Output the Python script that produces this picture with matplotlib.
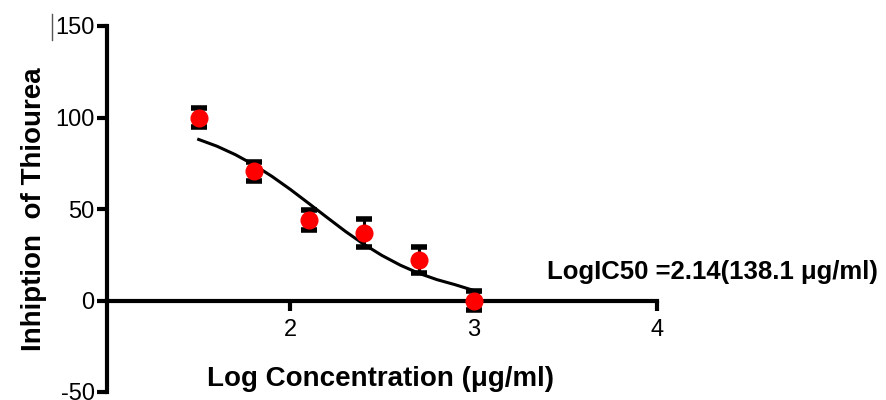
import matplotlib
matplotlib.use('Agg')
import matplotlib.pyplot as plt
from matplotlib.lines import Line2D

plt.rcParams['font.family'] = ['Liberation Sans', 'DejaVu Sans']
plt.rcParams['axes.unicode_minus'] = False

# Data
log_conc = [1.5, 1.8, 2.1, 2.4, 2.7, 3.0]
inhibition = [100, 70.5, 44, 36.7, 22.4, 0]
sem = [5.3, 5.2, 5.5, 7.7, 7.1, 5.2]

# fitted curve
curve_x = [1.5, 1.6, 1.7, 1.8, 1.9, 2.0, 2.1, 2.2, 2.3, 2.4, 2.5, 2.6, 2.7, 2.8, 2.9, 3.0, 3.03]
curve_y = [88.0, 84.3, 79.7, 74.2, 67.8, 60.7, 53.1, 45.4, 37.8, 30.8, 24.6, 19.3, 14.9, 11.4, 8.6, 5.5, 4.5]

x_ticks = [2, 3, 4]
y_ticks = [-50, 0, 50, 100, 150]

fig = plt.figure(figsize=(8.86, 4.0), dpi=100)
ax = fig.add_axes([0.1208, 0.02, 0.6207, 0.915])

ax.plot(curve_x, curve_y, color='black', lw=2.2, zorder=2)
ax.errorbar(log_conc, inhibition, yerr=sem, fmt='o', color='red', ms=12,
            ecolor='black', elinewidth=2.2, capsize=6, capthick=4, zorder=3,
            clip_on=False)

ax.set_xlim(1, 4)
ax.set_ylim(-50, 150)
ax.set_xticks(x_ticks)
ax.set_yticks(y_ticks)

ax.spines['top'].set_visible(False)
ax.spines['right'].set_visible(False)
ax.spines['bottom'].set_position(('data', 0))
ax.spines['left'].set_linewidth(3)
ax.spines['bottom'].set_linewidth(3)
ax.tick_params(axis='both', direction='out', length=7, width=3, labelsize=17)
ax.tick_params(axis='y', pad=2)
ax.tick_params(axis='x', pad=6)

ax.set_xlabel('Log Concentration (\u03bcg/ml)', fontsize=20, fontweight='bold')
ax.xaxis.set_label_coords(0.498, 0.072)
ax.set_ylabel('Inhiption  of Thiourea', fontsize=20, fontweight='bold')
ax.yaxis.set_label_coords(-0.11, 0.5)

ax.text(3.4, 15.5, 'LogIC50 =2.14(138.1 \u03bcg/ml)', fontsize=18.5,
        fontweight='bold', va='center', ha='left')

# small stray mark at top-left of the original
fig.lines.append(Line2D([0.059, 0.059], [0.9, 0.965], color='#555555', lw=1,
                        transform=fig.transFigure))

fig.savefig('out.png', dpi=100)
